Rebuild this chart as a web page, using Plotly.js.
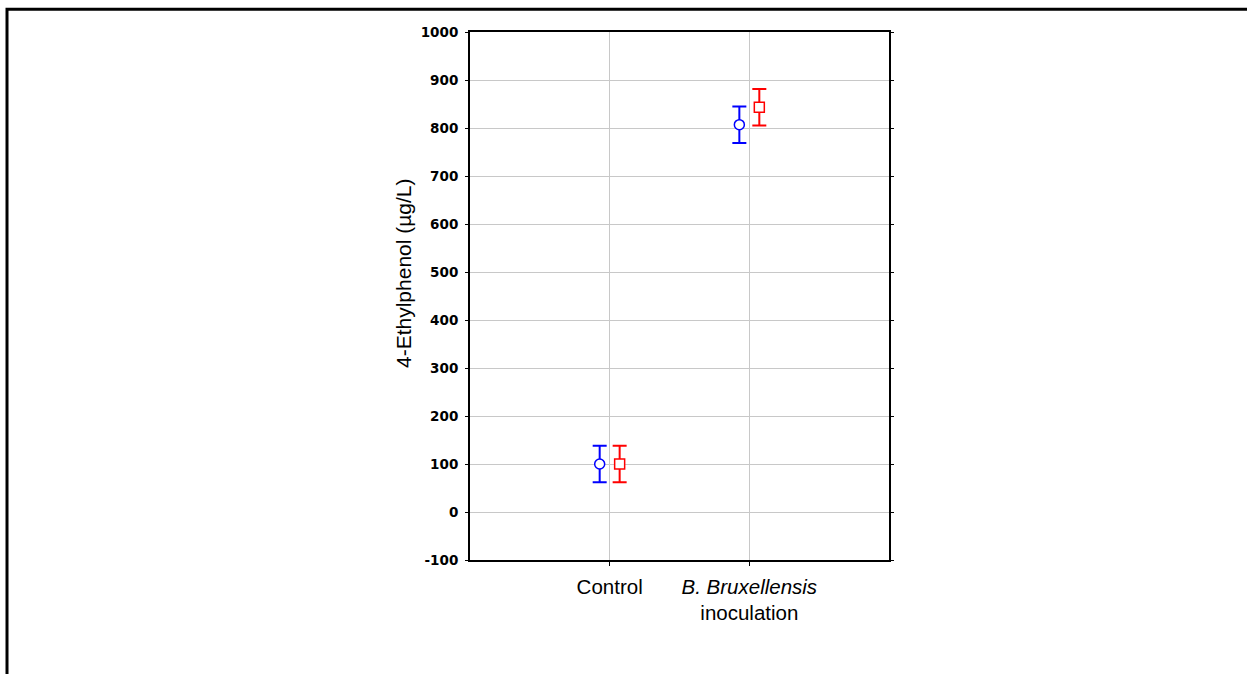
<!DOCTYPE html>
<html>
<head>
<meta charset="utf-8">
<script src="https://cdn.plot.ly/plotly-3.0.1.min.js"></script>
<style>html,body{margin:0;padding:0;background:#fff;}#chart{width:1247px;height:674px;}</style>
</head>
<body>
<div id="chart"></div>
<script>
const categories = ["Control", "B. Bruxellensis inoculation"];
const tickLabels = ["Control", "<i>B. Bruxellensis</i><br>inoculation"];
const seriesBlueMean = [100, 807];
const seriesBlueErr = [38, 38];
const seriesRedMean = [100, 843];
const seriesRedErr = [38, 38];
const yTicks = [-100, 0, 100, 200, 300, 400, 500, 600, 700, 800, 900, 1000];
const yTitle = '4-Ethylphenol (µg/L)';

const traces = [
  {
    type: 'scatter', mode: 'markers', name: 'A',
    x: categories, y: seriesBlueMean,
    error_y: {type: 'data', array: seriesBlueErr, visible: true, color: '#0000ff', thickness: 2, width: 7},
    marker: {symbol: 'circle', size: 10, color: '#ffffff', line: {color: '#0000ff', width: 1.5}},
    cliponaxis: false
  },
  {
    type: 'scatter', mode: 'markers', name: 'B',
    x: categories, y: seriesRedMean,
    error_y: {type: 'data', array: seriesRedErr, visible: true, color: '#ff0000', thickness: 2, width: 7},
    marker: {symbol: 'square', size: 10, color: '#ffffff', line: {color: '#ff0000', width: 1.5}},
    cliponaxis: false
  }
];

const layout = {
  width: 1247, height: 674,
  margin: {l: 470, r: 358, t: 32, b: 114},
  paper_bgcolor: '#ffffff', plot_bgcolor: '#ffffff',
  showlegend: false,
  scattermode: 'group',
  scattergap: 0.714,
  xaxis: {
    type: 'category',
    categoryarray: categories,
    range: [-1, 2],
    tickvals: categories,
    ticktext: tickLabels,
    showgrid: true, gridcolor: '#c8c8c8', gridwidth: 1,
    showline: true, linecolor: '#000000', linewidth: 2, mirror: true,
    ticks: 'outside', ticklen: 4, tickcolor: '#000000', tickwidth: 1,
    ticklabelstandoff: 3,
    tickfont: {family: 'Liberation Sans, Arial, sans-serif', size: 20.5, color: '#000000'},
    zeroline: false, fixedrange: true
  },
  yaxis: {
    range: [-100, 1000],
    tickvals: yTicks,
    ticktext: yTicks.map(String),
    showgrid: true, gridcolor: '#c8c8c8', gridwidth: 1,
    showline: true, linecolor: '#000000', linewidth: 2, mirror: 'ticks',
    ticks: 'outside', ticklen: 3, tickcolor: '#000000', tickwidth: 1,
    ticklabelstandoff: 4,
    tickfont: {family: 'DejaVu Sans, sans-serif', size: 13.5, color: '#000000', weight: 'bold'},
    zeroline: false, fixedrange: true
  },
  annotations: [
    {
      text: yTitle, xref: 'paper', yref: 'paper',
      x: -0.1575, y: 0.5436, xanchor: 'center', yanchor: 'middle',
      textangle: -90, showarrow: false,
      font: {family: 'Liberation Sans, Arial, sans-serif', size: 21, color: '#000000'}
    }
  ],
  shapes: [
    {
      type: 'path', xref: 'paper', yref: 'paper',
      path: 'M -1.105 -0.3 L -1.105 1.043 L 1.9 1.043',
      line: {color: '#000000', width: 3}
    }
  ]
};

Plotly.newPlot('chart', traces, layout, {displayModeBar: false, staticPlot: true});
</script>
</body>
</html>
